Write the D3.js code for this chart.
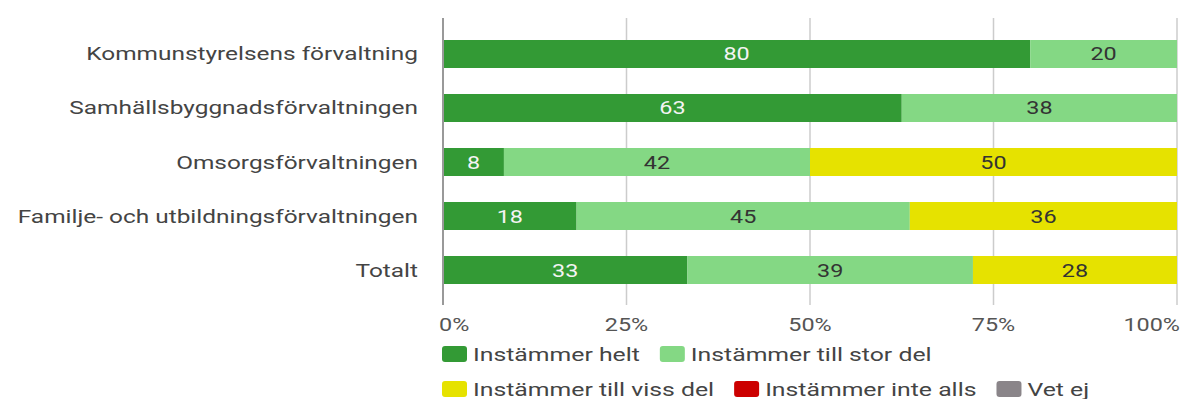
<!DOCTYPE html>
<html>
<head>
<meta charset="utf-8">
<script src="https://cdn.jsdelivr.net/npm/d3@7/dist/d3.min.js"></script>
<style>
  html, body { margin: 0; padding: 0; background: #fff; }
  svg { display: block; font-family: Roboto, "Noto Sans", sans-serif; }
</style>
</head>
<body>
<svg id="chart" width="1182" height="399"></svg>
<script>
const categories = [
  "Kommunstyrelsens förvaltning",
  "Samhällsbyggnadsförvaltningen",
  "Omsorgsförvaltningen",
  "Familje- och utbildningsförvaltningen",
  "Totalt"
];
const seriesNames = ["Instämmer helt", "Instämmer till stor del", "Instämmer till viss del", "Instämmer inte alls", "Vet ej"];
const instammerHelt      = [80, 62.5, 8.3, 18.2, 33.3];
const instammerStorDel   = [20, 37.5, 41.7, 45.4, 38.9];
const instammerVissDel   = [0, 0, 50, 36.4, 27.8];
const instammerInteAlls  = [0, 0, 0, 0, 0];
const vetEj              = [0, 0, 0, 0, 0];
const tickValues = [0, 25, 50, 75, 100];
const tickLabels = ["0%", "25%", "50%", "75%", "100%"];

const colors = ["#339a35", "#84d884", "#e6e200", "#cc0000", "#8a8589"];
const labelColors = ["#f4f4f4", "#333333", "#333333", "#f4f4f4", "#f4f4f4"];
const seriesValues = [instammerHelt, instammerStorDel, instammerVissDel, instammerInteAlls, vetEj];

const table = categories.map((c, i) => {
  const row = { category: c };
  seriesNames.forEach((s, j) => row[s] = seriesValues[j][i]);
  return row;
});

const svg = d3.select("#chart");
const left = 443, right = 1177;
const gridTop = 18, gridBottom = 305;

const x = d3.scaleLinear().domain([0, 100]).range([left, right]);
const y = d3.scaleBand().domain(categories).range([27, 297]).paddingInner(0.4815).paddingOuter(0.2407);

function stext(g, tx, ty, str, opts) {
  return g.append("text")
    .attr("transform", `translate(${tx},${ty}) scale(${opts.sx},1)`)
    .attr("text-anchor", opts.anchor || "start")
    .attr("font-size", opts.size)
    .attr("fill", opts.fill)
    .text(str);
}

// gridlines
svg.append("g").selectAll("line")
  .data(tickValues.filter(d => d > 0))
  .join("line")
  .attr("x1", d => x(d)).attr("x2", d => x(d))
  .attr("y1", gridTop).attr("y2", gridBottom)
  .attr("stroke", "#cccccc").attr("stroke-width", 1.5);

// bars
const stack = d3.stack().keys(seriesNames)(table);
const barsG = svg.append("g");
stack.forEach((layer, j) => {
  barsG.append("g").selectAll("rect")
    .data(layer.filter(d => d[1] - d[0] > 0))
    .join("rect")
    .attr("x", d => x(d[0]))
    .attr("y", d => y(d.data.category))
    .attr("width", d => x(d[1]) - x(d[0]))
    .attr("height", y.bandwidth())
    .attr("fill", colors[j]);
});

// baseline axis line
svg.append("line")
  .attr("x1", x(0)).attr("x2", x(0))
  .attr("y1", gridTop).attr("y2", gridBottom)
  .attr("stroke", "#999999").attr("stroke-width", 2);

// value labels
const lblG = svg.append("g");
stack.forEach((layer, j) => {
  layer.forEach(d => {
    const v = d[1] - d[0];
    if (v <= 0) return;
    const cx = (x(d[0]) + x(d[1])) / 2;
    const cy = y(d.data.category) + y.bandwidth() / 2;
    stext(lblG, cx, cy + 6.5, String(Math.round(v)), { sx: 1.3, size: 18, fill: labelColors[j], anchor: "middle" });
  });
});

// category labels
const catG = svg.append("g");
categories.forEach(c => {
  stext(catG, left - 25, y(c) + y.bandwidth() / 2 + 6.5, c, { sx: 1.32, size: 18.5, fill: "#444444", anchor: "end" });
});

// x tick labels
const tickG = svg.append("g");
tickValues.forEach((v, i) => {
  let anchor = "middle", tx = x(v);
  if (i === 0) { anchor = "start"; tx = x(v) - 4; }
  if (i === tickValues.length - 1) { anchor = "end"; tx = x(v) + 3; }
  stext(tickG, tx, 331, tickLabels[i], { sx: 1.3, size: 18, fill: "#555555", anchor });
});

// legend (flow layout)
const legG = svg.append("g");
const rowY = [354, 389];
let row = 0, cx = left - 1;
const swW = 25, swH = 16, gap = 6, itemGap = 20, lsx = 1.34;
seriesNames.forEach((s, j) => {
  const tmp = stext(legG, 0, -100, s, { sx: lsx, size: 18.5, fill: "#444444" });
  const tw = tmp.node().getComputedTextLength() * lsx;
  tmp.remove();
  const itemW = swW + gap + tw;
  if (cx + itemW > right + 2 && cx > left) { row++; cx = left - 1; }
  const cy = rowY[row];
  legG.append("rect")
    .attr("x", cx).attr("y", cy - swH / 2)
    .attr("width", swW).attr("height", swH)
    .attr("rx", 3).attr("ry", 3)
    .attr("fill", colors[j]);
  stext(legG, cx + swW + gap, cy + 6.7, s, { sx: lsx, size: 18.5, fill: "#444444" });
  cx += itemW + itemGap;
});
</script>
</body>
</html>
